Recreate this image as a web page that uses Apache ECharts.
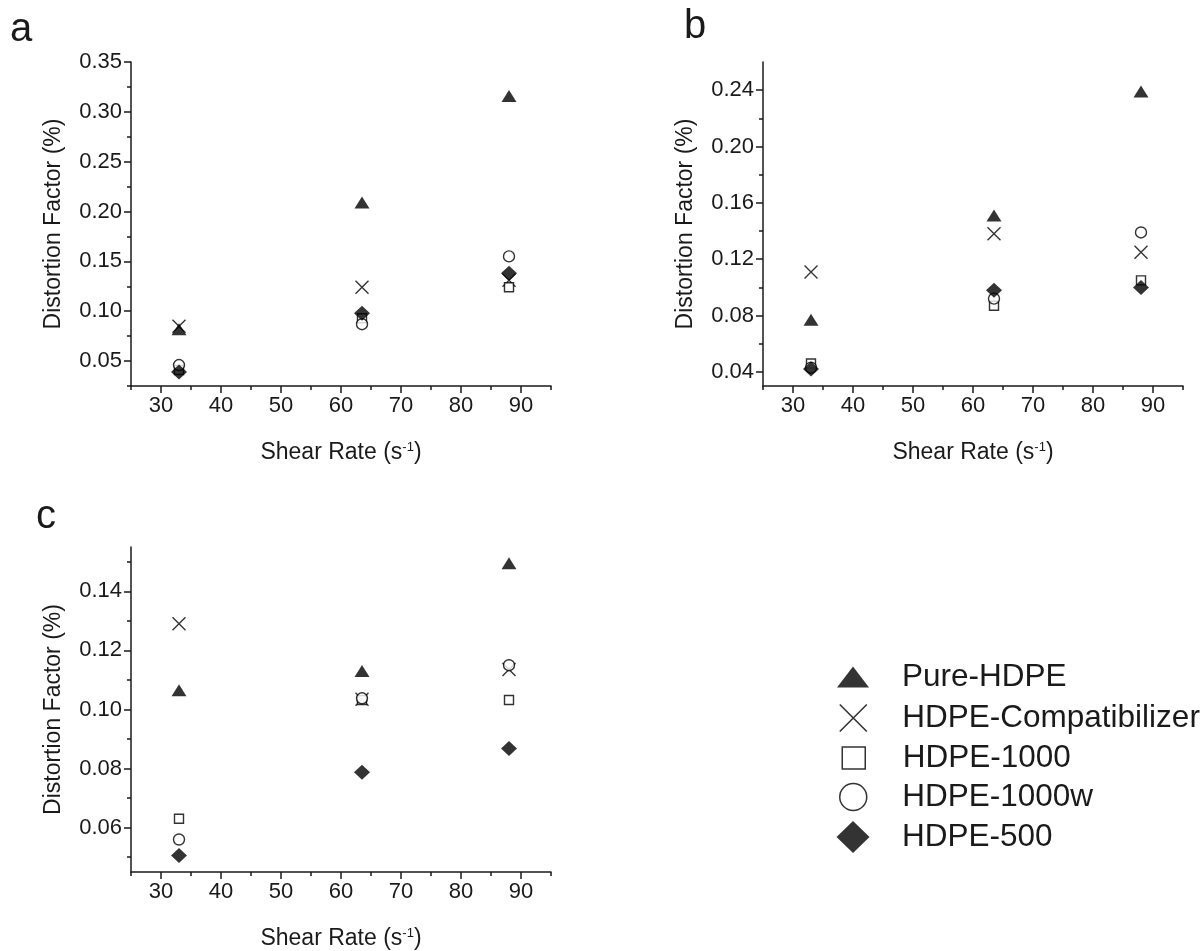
<!DOCTYPE html>
<html>
<head>
<meta charset="utf-8">
<script src="https://cdn.jsdelivr.net/npm/echarts@6.0.0/dist/echarts.min.js"></script>
<style>
  html, body { margin: 0; padding: 0; background: #fff; }
  #chart { width: 1201px; height: 951px; }
</style>
</head>
<body>
<div id="chart"></div>
<script>
// categories / x values
const shearRate = [33, 63.5, 88];
const names = ['Pure-HDPE', 'HDPE-Compatibilizer', 'HDPE-1000', 'HDPE-1000w', 'HDPE-500'];

// panel a
const aPure = [0.082, 0.209, 0.316];
const aCompat = [0.085, 0.124, 0.131];
const aH1000 = [0.041, 0.093, 0.124];
const aH1000w = [0.046, 0.087, 0.155];
const aH500 = [0.039, 0.098, 0.138];

// panel b
const bPure = [0.077, 0.151, 0.239];
const bCompat = [0.111, 0.138, 0.125];
const bH1000 = [0.046, 0.087, 0.105];
const bH1000w = [0.043, 0.092, 0.139];
const bH500 = [0.042, 0.098, 0.100];

// panel c
const cPure = [0.1065, 0.113, 0.1495];
const cCompat = [0.129, 0.1035, 0.1135];
const cH1000 = [0.063, 0.1032, 0.1032];
const cH1000w = [0.056, 0.1038, 0.115];
const cH500 = [0.0506, 0.0788, 0.0868];

// tick values
const xMajor = [30, 40, 50, 60, 70, 80, 90];
const xMinor = [25, 35, 45, 55, 65, 75, 85, 95];
const aYMajor = [0.05, 0.10, 0.15, 0.20, 0.25, 0.30, 0.35];
const aYMinor = [0.025, 0.075, 0.125, 0.175, 0.225, 0.275, 0.325];
const bYMajor = [0.04, 0.08, 0.12, 0.16, 0.20, 0.24];
const bYMinor = [0.06, 0.10, 0.14, 0.18, 0.22];
const cYMajor = [0.06, 0.08, 0.10, 0.12, 0.14];
const cYMinor = [0.05, 0.07, 0.09, 0.11, 0.13, 0.15];

const FONT = '"Liberation Sans", Arial, Helvetica, sans-serif';
const INK = '#1a1a1a';
const MARK = '#000';
const CROSS = 'path://M0,0L10,10M10,0L0,10';

let chart = echarts.init(document.getElementById('chart'), null, { renderer: 'canvas' });

let grids = [
	{ left: 131, top: 62, width: 420, height: 324 },
	{ left: 763, top: 62, width: 420, height: 324 },
	{ left: 131, top: 547, width: 420, height: 325 }
];

let lineStyle = { color: INK, width: 1.5 };

function xAxes(gi) {
	return [{
		gridIndex: gi, type: 'value', min: 25, max: 95, position: 'bottom',
		name: '{t|Shear Rate (s}{s|-1}{t|)}', nameLocation: 'middle', nameGap: 55,
		nameTextStyle: {
			rich: {
				t: { fontSize: 23, fontFamily: FONT, color: INK },
				s: { fontSize: 13, fontFamily: FONT, color: INK, verticalAlign: 'top' }
			}
		},
		axisLine: { show: true, onZero: false, lineStyle: lineStyle },
		axisTick: { show: true, customValues: xMajor, length: 7, lineStyle: lineStyle },
		axisLabel: { customValues: xMajor, fontSize: 22, fontFamily: FONT, color: INK, margin: 9 },
		splitLine: { show: false }
	}, {
		gridIndex: gi, type: 'value', min: 25, max: 95, position: 'bottom',
		axisLine: { show: false },
		axisTick: { show: true, customValues: xMinor, length: 4, lineStyle: lineStyle },
		axisLabel: { show: false },
		splitLine: { show: false }
	}];
}

function yAxes(gi, min, max, major, minor) {
	return [{
		gridIndex: gi, type: 'value', min: min, max: max, position: 'left',
		name: 'Distortion Factor (%)', nameLocation: 'middle', nameGap: 66,
		nameTextStyle: { fontSize: 23, fontFamily: FONT, color: INK },
		axisLine: { show: true, onZero: false, lineStyle: lineStyle },
		axisTick: { show: true, customValues: major, length: 7, lineStyle: lineStyle },
		axisLabel: {
			customValues: major, fontSize: 22, fontFamily: FONT, color: INK, margin: 9,
			formatter: function (v) { return v.toFixed(2); }
		},
		splitLine: { show: false }
	}, {
		gridIndex: gi, type: 'value', min: min, max: max, position: 'left',
		axisLine: { show: false },
		axisTick: { show: true, customValues: minor, length: 4, lineStyle: lineStyle },
		axisLabel: { show: false },
		splitLine: { show: false }
	}];
}

// marker look for each of the five series
let looks = [
	{ symbol: 'triangle', symbolSize: [15, 12], itemStyle: { color: MARK } },
	{ symbol: CROSS, symbolSize: 13, itemStyle: { color: 'rgba(0,0,0,0)', borderColor: MARK, borderWidth: 1.4 } },
	{ symbol: 'rect', symbolSize: 9, itemStyle: { color: '#fff', borderColor: MARK, borderWidth: 1.4 } },
	{ symbol: 'circle', symbolSize: 11, itemStyle: { color: '#fff', borderColor: MARK, borderWidth: 1.4 } },
	{ symbol: 'diamond', symbolSize: [16, 15], itemStyle: { color: MARK } }
];

function panelSeries(gi, sets) {
	let out = [];
	for (let i = 0; i < sets.length; i++) {
		out.push(Object.assign({
			type: 'scatter',
			name: names[i],
			xAxisIndex: gi * 2,
			yAxisIndex: gi * 2,
			data: shearRate.map((x, k) => [x, sets[i][k]]),
			silent: true
		}, looks[i]));
	}
	return out;
}

// legend rows, one legend each so every icon keeps its own size
let legendRows = [
	{ icon: 'triangle', w: 32, h: 21, cy: 677 },
	{ icon: CROSS, w: 28, h: 27, cy: 718 },
	{ icon: 'rect', w: 23, h: 22, cy: 758 },
	{ icon: 'circle', w: 28, h: 27, cy: 797 },
	{ icon: 'diamond', w: 33, h: 32, cy: 837 }
];
let legendStyles = [
	{ color: MARK },
	{ color: 'rgba(0,0,0,0)', borderColor: MARK, borderWidth: 1.6 },
	{ color: '#fff', borderColor: MARK, borderWidth: 1.5 },
	{ color: '#fff', borderColor: MARK, borderWidth: 1.5 },
	{ color: MARK }
];
let legends = legendRows.map((r, i) => ({
	data: [{ name: names[i], icon: r.icon, itemStyle: legendStyles[i] }],
	left: 853 - r.w / 2,
	top: r.cy - 17,
	orient: 'vertical',
	padding: 0,
	itemWidth: r.w,
	itemHeight: r.h,
	selectedMode: false,
	textStyle: {
		fontSize: 31.5, fontFamily: FONT, color: INK, lineHeight: 34,
		padding: [0, 0, 0, 902 - (853 + r.w / 2) - 5]
	}
}));

let option = {
	animation: false,
	backgroundColor: '#fff',
	grid: grids,
	xAxis: [].concat(xAxes(0), xAxes(1), xAxes(2)),
	yAxis: [].concat(
		yAxes(0, 0.025, 0.35, aYMajor, aYMinor),
		yAxes(1, 0.03, 0.26, bYMajor, bYMinor),
		yAxes(2, 0.045, 0.155, cYMajor, cYMinor)
	),
	legend: legends,
	graphic: [
		{ type: 'text', left: 10, top: 10, style: { text: 'a', font: '40px ' + FONT, fill: INK } },
		{ type: 'text', left: 684, top: 7, style: { text: 'b', font: '40px ' + FONT, fill: INK } },
		{ type: 'text', left: 36, top: 497, style: { text: 'c', font: '40px ' + FONT, fill: INK } }
	],
	series: [].concat(
		panelSeries(0, [aPure, aCompat, aH1000, aH1000w, aH500]),
		panelSeries(1, [bPure, bCompat, bH1000, bH1000w, bH500]),
		panelSeries(2, [cPure, cCompat, cH1000, cH1000w, cH500])
	)
};

chart.setOption(option);
</script>
</body>
</html>
